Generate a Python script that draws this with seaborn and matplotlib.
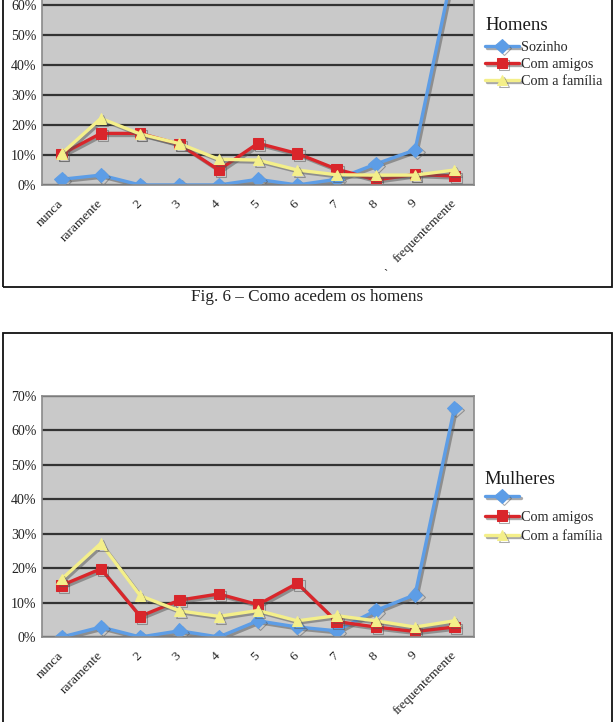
import pandas as pd
import seaborn as sns
import matplotlib.pyplot as plt
import matplotlib.patheffects as pe
from matplotlib.patches import Rectangle

# categorias do eixo x
categorias = ['nunca', 'raramente', '2', '3', '4', '5', '6', '7', '8', '9', 'frequentemente']
series = ['Sozinho', 'Com amigos', 'Com a família']

# Homens (%)
h_sozinho = [1.9, 3.3, 0, 0, 0, 1.9, 0, 1.9, 7.0, 11.7, 74.0]
h_amigos = [10.3, 17.2, 17.2, 13.6, 5.0, 13.9, 10.5, 5.3, 1.7, 3.5, 3.0]
h_familia = [10.5, 22.2, 17.0, 13.8, 8.6, 8.3, 5.0, 3.4, 3.3, 3.3, 5.0]

# Mulheres (%)
m_sozinho = [0, 2.9, 0, 1.8, 0, 4.7, 2.9, 1.8, 7.7, 12.3, 66.5]
m_amigos = [15.0, 19.8, 6.0, 10.7, 12.5, 9.4, 15.6, 4.5, 2.9, 1.6, 2.9]
m_familia = [16.8, 27.2, 12.0, 7.6, 6.0, 7.7, 4.7, 6.2, 4.7, 2.9, 4.7]

cores = {'Sozinho': '#5d9de6', 'Com amigos': '#d9262b', 'Com a família': '#f4ef8a'}
marcadores = {'Sozinho': 'D', 'Com amigos': 's', 'Com a família': '^'}

W, H = 615, 722


def long_df(a, b, c):
    linhas = []
    for nome, vals in zip(series, [a, b, c]):
        for cat, v in zip(categorias, vals):
            linhas.append({'cat': cat, 'serie': nome, 'valor': v})
    return pd.DataFrame(linhas)


sns.set_style('white')
plt.rcParams['font.family'] = ['Liberation Serif', 'DejaVu Serif']

fig = plt.figure(figsize=(W / 100, H / 100), dpi=100)


def grafico(ax, df, ymax, ytop, titulo, labels, tit_xy, leg_xy, spacing):
    ax.set_facecolor('#c9c9c9')
    sns.lineplot(data=df, x='cat', y='valor', hue='serie', style='serie',
                 palette=cores, markers=marcadores, dashes=False, sort=False,
                 lw=2.4, markersize=7.5, legend=False, ax=ax)
    for ln in ax.lines:
        ln.set_markeredgecolor(ln.get_color())
        ln.set_path_effects([pe.SimpleLineShadow(offset=(1.5, -1.5), shadow_color='#555555', alpha=0.5),
                             pe.Normal()])
    ax.set_xlim(-0.5, len(categorias) - 0.5)
    ax.set_ylim(0, ymax)
    # só os rótulos que aparecem na imagem
    ax.set_yticks(range(0, ytop + 1, 10))
    ax.set_yticklabels([f'{v}%' for v in range(0, ytop + 1, 10)], fontsize=10, color='#222222')
    ax.set_xticks(range(len(categorias)))
    ax.set_xticklabels(categorias, rotation=45, ha='right', va='center',
                       rotation_mode='anchor', fontsize=9.7, color='#222222')
    ax.set_xticks([i - 0.5 for i in range(len(categorias) + 1)], minor=True)
    ax.tick_params(axis='x', which='major', length=0, pad=12)
    ax.tick_params(axis='x', which='minor', length=4, color='#888888', width=1, direction='out')
    ax.tick_params(axis='y', length=3, color='#888888', pad=1)
    ax.yaxis.grid(True, color='#333333', lw=1.6)
    ax.xaxis.grid(False)
    ax.set_axisbelow(True)
    for s in ax.spines.values():
        s.set_color('#8a8a8a')
        s.set_linewidth(1.2)
    ax.set_xlabel('')
    ax.set_ylabel('')
    fig.text(tit_xy[0] / W, 1 - tit_xy[1] / H, titulo, ha='left', va='center',
             fontsize=13.5, color='#1a1a1a')
    ax.legend(ax.lines[:3], labels, loc='center left',
              bbox_to_anchor=(leg_xy[0] / W, 1 - leg_xy[1] / H),
              bbox_transform=fig.transFigure, frameon=False, fontsize=10.3,
              handlelength=2.35, handletextpad=0.2, labelspacing=spacing,
              borderpad=0, borderaxespad=0)


ax1 = fig.add_axes([42 / W, 1 - 185 / H, 432 / W, 240 / H])
grafico(ax1, long_df(h_sozinho, h_amigos, h_familia), 80, 60, 'Homens',
        ['Sozinho', 'Com amigos', 'Com a família'], (485, 26), (485, 64.5), 0.28)

ax2 = fig.add_axes([42 / W, 1 - 637 / H, 432 / W, 241 / H])
grafico(ax2, long_df(m_sozinho, m_amigos, m_familia), 70, 70, 'Mulheres',
        [' ', 'Com amigos', 'Com a família'], (484, 479), (485, 517), 0.45)

# molduras dos gráficos
fig.patches.append(Rectangle((3 / W, 1 - 287 / H), 609 / W, 320 / H, fill=False,
                             lw=1.3, edgecolor='#111111', transform=fig.transFigure))
fig.patches.append(Rectangle((3 / W, -20 / H), 609 / W, (H + 20 - 333) / H, fill=False,
                             lw=1.3, edgecolor='#111111', transform=fig.transFigure))

fig.text(307 / W, 1 - 297 / H, 'Fig. 6 – Como acedem os homens', ha='center', va='center',
         fontsize=12.3, color='#222222')
fig.text(385 / W, 1 - 275 / H, '`', ha='center', va='center', fontsize=9, color='#222222')

fig.savefig('out.png', dpi=100)
